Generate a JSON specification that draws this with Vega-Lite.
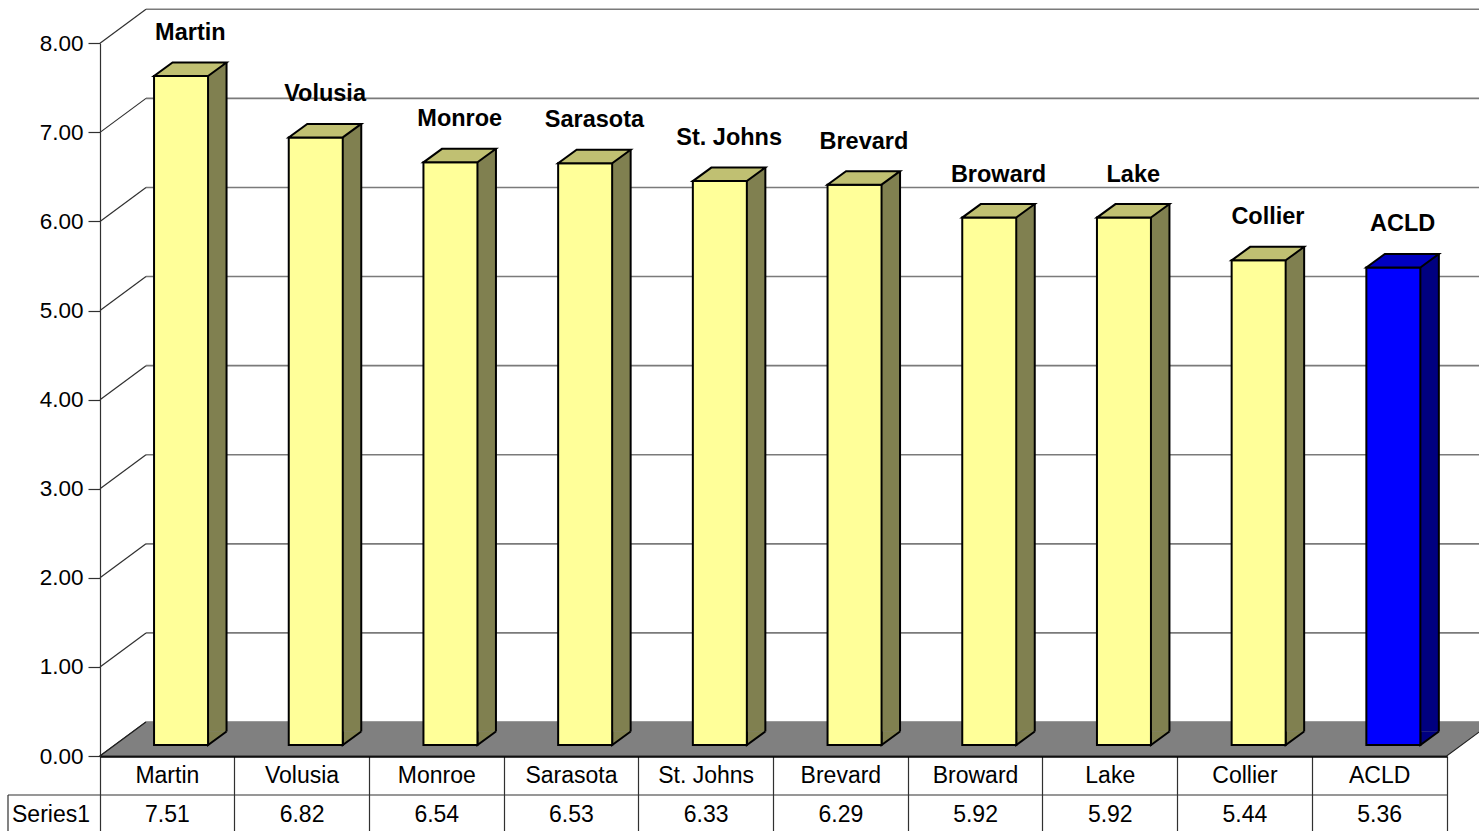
{
  "$schema": "https://vega.github.io/schema/vega-lite/v6.json",
  "width": 1347,
  "height": 756,
  "autosize": "none",
  "padding": {"left": 100, "top": 0, "right": 32, "bottom": 75},
  "background": "white",
  "config": {
    "view": {"stroke": null},
    "font": "Liberation Sans",
    "axis": {"labelFont": "Liberation Sans", "labelFontSize": 22, "labelColor": "black", "grid": false}
  },
  "datasets": {
    "counties": [
      {"county": "Martin", "value": 7.51},
      {"county": "Volusia", "value": 6.82},
      {"county": "Monroe", "value": 6.54},
      {"county": "Sarasota", "value": 6.53},
      {"county": "St. Johns", "value": 6.33},
      {"county": "Brevard", "value": 6.29},
      {"county": "Broward", "value": 5.92},
      {"county": "Lake", "value": 5.92},
      {"county": "Collier", "value": 5.44},
      {"county": "ACLD", "value": 5.36}
    ],
    "ticks": [
      {"tick": 0}, {"tick": 1}, {"tick": 2}, {"tick": 3}, {"tick": 4},
      {"tick": 5}, {"tick": 6}, {"tick": 7}, {"tick": 8}
    ],
    "one": [{"row": "Series1"}]
  },
  "layer": [
    {
      "data": {"name": "counties"},
      "mark": {"type": "bar", "width": 54, "xOffset": 13.7, "yOffset": -11, "y2Offset": -11, "opacity": 0},
      "encoding": {
        "x": {"field": "county", "type": "nominal", "sort": null, "title": null,
          "scale": {"paddingInner": 0, "paddingOuter": 0},
          "axis": {"labelAngle": 0, "bandPosition": 1, "tickExtra": true, "tickSize": 76, "tickColor": "#303030", "tickWidth": 1.2,
                   "labelBaseline": "middle", "labelPadding": -57, "domainColor": "black", "domainWidth": 2.5, "labelFontSize": 23}},
        "y": {"field": "value", "type": "quantitative", "title": null,
          "scale": {"domain": [0, 8], "range": [756, 43.3], "nice": false, "zero": true},
          "axis": {"values": [0, 1, 2, 3, 4, 5, 6, 7, 8], "format": ".2f", "tickSize": 12, "tickColor": "#303030", "domainColor": "#303030",
                   "domainWidth": 1.2, "tickWidth": 1.2, "labelPadding": 5, "labelFontSize": 22.5}}
      }
    },
    {
      "data": {"name": "ticks"},
      "mark": {"type": "rule", "color": "#7a7a7a", "strokeWidth": 1.6, "xOffset": -21.35, "x2Offset": 160, "yOffset": -34},
      "encoding": {
        "x": {"datum": "Martin", "type": "nominal"},
        "x2": {"datum": "ACLD"},
        "y": {"field": "tick", "type": "quantitative", "title": null}
      }
    },
    {
      "data": {"name": "ticks"},
      "mark": {"type": "rule", "color": "#303030", "strokeWidth": 1.2, "xOffset": -67.35, "x2Offset": -21.35, "y2Offset": -34},
      "encoding": {
        "x": {"datum": "Martin", "type": "nominal"},
        "x2": {"datum": "Martin"},
        "y": {"field": "tick", "type": "quantitative", "title": null},
        "y2": {"field": "tick"}
      }
    },
    {
      "data": {"name": "one"},
      "mark": {"type": "point", "shape": "M-21.35,-34L-67.35,0L1279.35,0L1325.35,-34", "size": 4, "filled": true,
               "fill": "#808080", "stroke": "#202020", "strokeWidth": 1.2, "opacity": 1},
      "encoding": {
        "x": {"datum": "Martin", "type": "nominal"},
        "y": {"datum": 0, "type": "quantitative"}
      }
    },
    {
      "data": {"name": "counties"},
      "mark": {"type": "bar", "width": 18.5, "xOffset": 49.95, "yOffset": -24.5, "y2Offset": -24.5, "strokeWidth": 0},
      "encoding": {
        "x": {"field": "county", "type": "nominal", "sort": null},
        "y": {"field": "value", "type": "quantitative", "title": null},
        "fill": {"condition": {"test": "datum.county === 'ACLD'", "value": "#000080"}, "value": "#808050"}
      }
    },
    {
      "data": {"name": "counties"},
      "mark": {"type": "point", "shape": "M0,-13.5L0,0L18.5,-13.5", "size": 4, "filled": true, "xOffset": 40.7, "yOffset": -11,
               "stroke": "black", "strokeWidth": 2, "opacity": 1},
      "encoding": {
        "x": {"field": "county", "type": "nominal", "sort": null},
        "y": {"datum": 0, "type": "quantitative"},
        "fill": {"condition": {"test": "datum.county === 'ACLD'", "value": "#000080"}, "value": "#808050"}
      }
    },
    {
      "data": {"name": "counties"},
      "mark": {"type": "rule", "color": "black", "strokeWidth": 2, "xOffset": 59.2, "yOffset": -24.5, "y2Offset": -24.5},
      "encoding": {
        "x": {"field": "county", "type": "nominal", "sort": null},
        "y": {"field": "value", "type": "quantitative", "title": null},
        "y2": {"datum": 0}
      }
    },
    {
      "data": {"name": "counties"},
      "mark": {"type": "bar", "width": 54, "xOffset": 13.7, "yOffset": -11, "y2Offset": -11, "stroke": "black", "strokeWidth": 2},
      "encoding": {
        "x": {"field": "county", "type": "nominal", "sort": null},
        "y": {"field": "value", "type": "quantitative", "title": null},
        "fill": {"condition": {"test": "datum.county === 'ACLD'", "value": "#0000FF"}, "value": "#FFFF99"}
      }
    },
    {
      "data": {"name": "counties"},
      "mark": {"type": "point", "shape": "M-27,0L27,0L45.5,-13.5L-8.5,-13.5Z", "size": 4, "filled": true, "xOffset": 13.7, "yOffset": -11,
               "stroke": "black", "strokeWidth": 2, "opacity": 1},
      "encoding": {
        "x": {"field": "county", "type": "nominal", "sort": null},
        "y": {"field": "value", "type": "quantitative", "title": null},
        "fill": {"condition": {"test": "datum.county === 'ACLD'", "value": "#0000C0"}, "value": "#C0C072"}
      }
    },
    {
      "data": {"name": "counties"},
      "mark": {"type": "text", "font": "Liberation Sans", "fontSize": 23.5, "fontWeight": "bold", "color": "black",
               "baseline": "middle", "align": "center", "xOffset": 23, "yOffset": -54},
      "encoding": {
        "x": {"field": "county", "type": "nominal", "sort": null},
        "y": {"field": "value", "type": "quantitative", "title": null},
        "text": {"field": "county"}
      }
    },
    {
      "data": {"name": "counties"},
      "mark": {"type": "text", "font": "Liberation Sans", "fontSize": 23, "color": "black",
               "baseline": "middle", "align": "center", "yOffset": 59},
      "encoding": {
        "x": {"field": "county", "type": "nominal", "sort": null},
        "y": {"datum": 0, "type": "quantitative"},
        "text": {"field": "value", "format": ".2f"}
      }
    },
    {
      "data": {"name": "one"},
      "mark": {"type": "text", "font": "Liberation Sans", "fontSize": 23, "color": "black",
               "baseline": "middle", "align": "center", "xOffset": -116.35, "yOffset": 59},
      "encoding": {
        "x": {"datum": "Martin", "type": "nominal"},
        "y": {"datum": 0, "type": "quantitative"},
        "text": {"field": "row"}
      }
    },
    {
      "data": {"name": "one"},
      "mark": {"type": "rule", "color": "#303030", "strokeWidth": 1.2, "xOffset": -159.35, "x2Offset": 67.35, "yOffset": 39},
      "encoding": {
        "x": {"datum": "Martin", "type": "nominal"},
        "x2": {"datum": "ACLD"},
        "y": {"datum": 0, "type": "quantitative"}
      }
    },
    {
      "data": {"name": "one"},
      "mark": {"type": "rule", "color": "#303030", "strokeWidth": 1.2, "xOffset": -159.35, "yOffset": 39, "y2Offset": 80},
      "encoding": {
        "x": {"datum": "Martin", "type": "nominal"},
        "y": {"datum": 0, "type": "quantitative"},
        "y2": {"datum": 0}
      }
    }
  ]
}
